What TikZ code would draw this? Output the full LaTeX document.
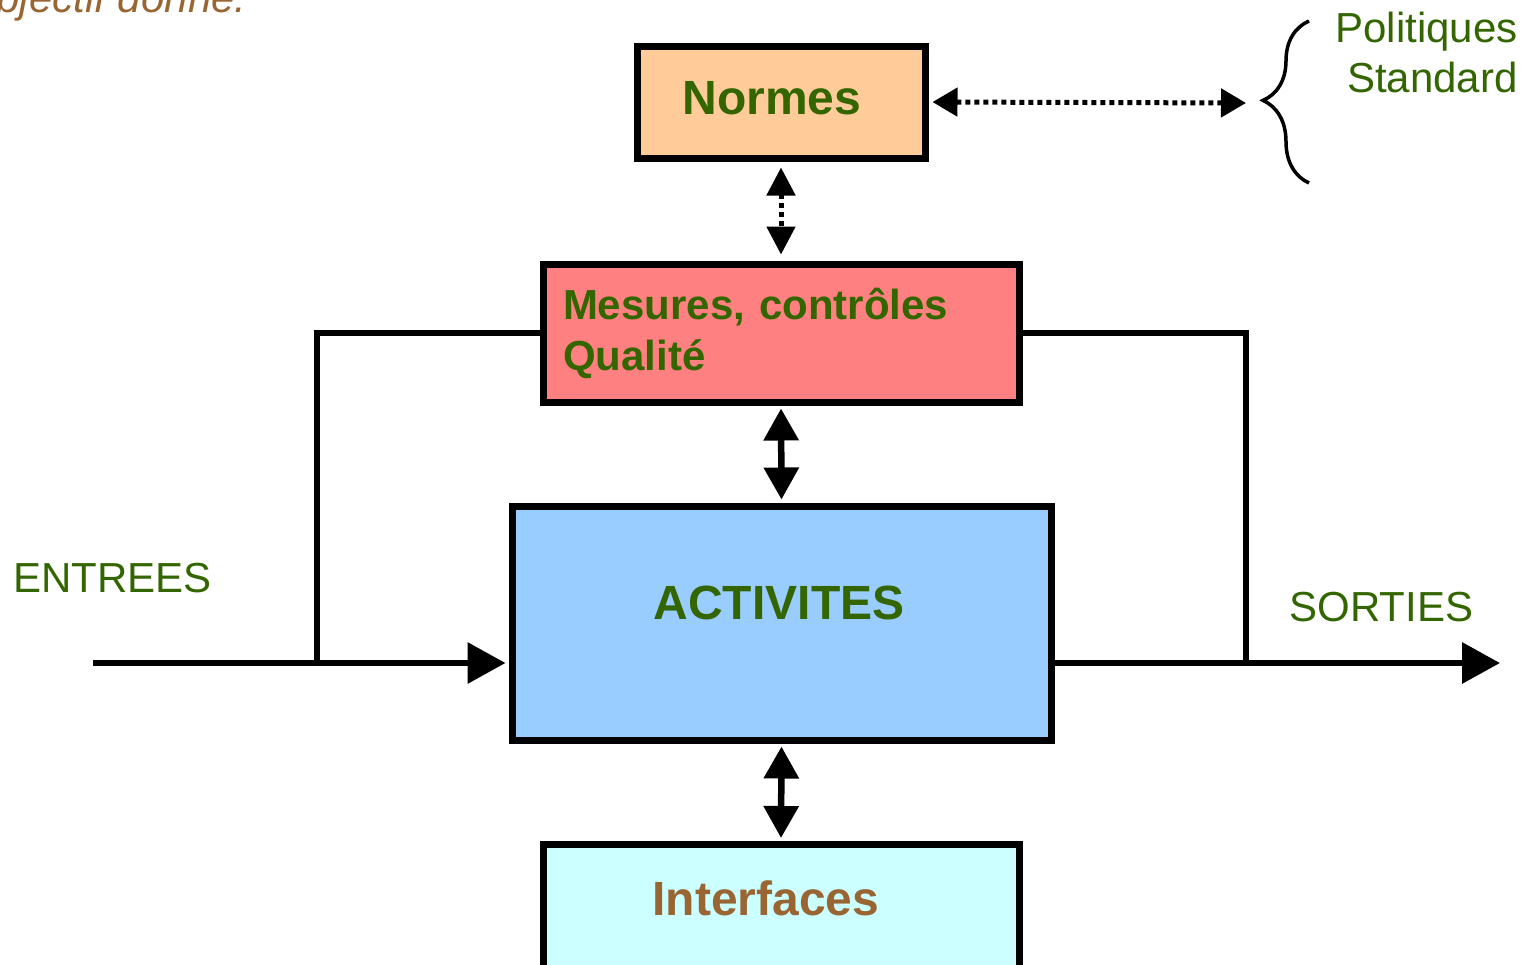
\documentclass[tikz,border=0pt]{standalone}
\usepackage{fontspec}
\setmainfont{Liberation Sans}
\usetikzlibrary{arrows.meta,decorations.pathreplacing}

\definecolor{vertnorme}{RGB}{51,102,0}
\definecolor{brunnote}{RGB}{153,102,51}
\definecolor{peche}{RGB}{255,204,153}
\definecolor{rosemes}{RGB}{255,128,128}
\definecolor{bleuact}{RGB}{153,204,255}
\definecolor{cyanint}{RGB}{204,255,255}

\begin{document}
\begin{tikzpicture}[x=1pt, y=-1pt,
    boite/.style={draw, line width=7pt, inner sep=0pt},
    titre/.style={font=\bfseries\fontsize{48}{50}\selectfont, text=vertnorme},
    legende/.style={font=\fontsize{42}{50}\selectfont, text=vertnorme},
    flux/.style={line width=6.5pt},
    pointille/.style={line width=5pt, dash pattern=on 5pt off 4pt}]

    \useasboundingbox (0,0) rectangle (1526,964);

    % Texte coupe en haut a gauche
    \node[anchor=base east, font=\itshape\fontsize{42}{50}\selectfont, text=brunnote] (objectif) at (250,12) {objectif donné.};

    % Les quatre boites
    \node[boite, fill=peche, minimum width=288, minimum height=112] (normes) at (781,102) {};
    \node[boite, fill=rosemes, minimum width=476, minimum height=138, text width=436, inner xsep=20pt, align=left,
          font=\bfseries\fontsize{42}{51}\selectfont, text=vertnorme] (mesures) at (781,333) {Mesures, contrôles\\Qualité};
    \node[boite, fill=bleuact, minimum width=539, minimum height=234] (actv) at (781.5,623) {};
    \node[boite, fill=cyanint, minimum width=476, minimum height=200, anchor=north] (inter) at (781,841) {};

    % Textes des boites
    \node[titre, anchor=base] (normtxt) at (772,114) {Normes};
    \node[titre, anchor=base] (actvtxt) at (779,619) {ACTIVITES};
    \node[titre, anchor=base, text=brunnote] (intertxt) at (766,915) {Interfaces};

    % Fleches verticales
    \draw[pointille, {Triangle[length=28pt,width=28pt]}-{Triangle[length=28pt,width=28pt]}, shorten <=6pt, shorten >=6pt] (normes.south) -- (mesures.north);
    \draw[flux, {Triangle[length=32pt,width=34pt]}-{Triangle[length=32pt,width=34pt]}, shorten <=3pt, shorten >=3pt] (mesures.south) -- (actv.north);
    \draw[flux, {Triangle[length=32pt,width=34pt]}-{Triangle[length=32pt,width=34pt]}, shorten <=3pt, shorten >=3pt] (actv.south) -- (inter.north);

    % Accolade et fleche vers Politiques / Standard
    \coordinate (accol) at (1246,103);
    \draw[pointille, {Triangle[length=25pt,width=28pt]}-{Triangle[length=25pt,width=28pt]}, shorten <=4pt] (normes.east) -- (accol);
    \draw[line width=3.5pt, decorate, decoration={brace, amplitude=46pt, aspect=0.51}] (1309,183) -- (1309,21);
    \node[legende, anchor=base east] (polit) at (1521,42) {Politiques};
    \node[legende, anchor=base east] (stand) at (1521,92) {Standard};

    % Entrees
    \coordinate (entree) at (93,663);
    \coordinate (retourg) at (317,663);
    \draw[flux, -{Triangle[length=38pt,width=40pt]}, shorten >=3pt] (entree) -- (actv.west |- entree);
    \draw[flux] (retourg) |- (mesures.west);
    \node[legende, anchor=base west] (entrees) at (10,592) {ENTREES};

    % Sorties
    \coordinate (sortie) at (1500,663);
    \coordinate (retourd) at (1246,663);
    \draw[flux, -{Triangle[length=38pt,width=40pt]}] (actv.east |- sortie) -- (sortie);
    \draw[flux] (retourd) |- (mesures.east);
    \node[legende, anchor=base west] (sorties) at (1286,621) {SORTIES};
  \end{tikzpicture}
\end{document}
